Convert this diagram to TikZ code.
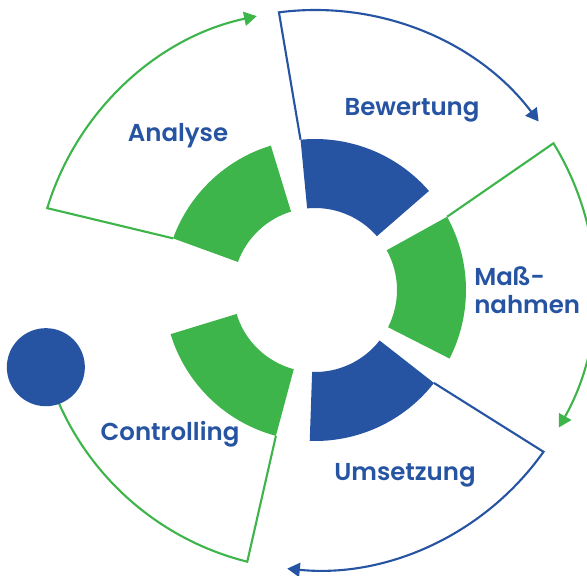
\documentclass[tikz,border=0pt]{standalone}
\usepackage{fontspec}
\setmainfont{Poppins}[BoldFont={Poppins SemiBold}]
\usetikzlibrary{arrows.meta}
\definecolor{ZyklusBlau}{RGB}{38,84,162}
\definecolor{ZyklusGruen}{RGB}{61,181,74}

\begin{document}
\begin{tikzpicture}[x=0.025cm, y=0.025cm,
    rahmen/.style={line width=1.5pt, -{Triangle[length=9pt, width=10pt]}},
    titel/.style={font=\fontsize{17.4}{19.5}\selectfont\bfseries, text=ZyklusBlau, inner sep=0pt}]
    \useasboundingbox (-315,-285) rectangle (272,290);
    \def\ri{82} \def\ro{151} \def\rl{280}

    % Rahmen mit Pfeilen
    \draw[rahmen, ZyklusGruen] (160:\ro) -- (163:\rl) arc[start angle=163, end angle=102, radius=\rl];
    \draw[rahmen, ZyklusBlau] (95.5:\ro) -- (97.4:\rl) arc[start angle=97.4, end angle=37, radius=\rl];
    \draw[rahmen, ZyklusGruen] (29:\ro) -- (31.6:\rl) arc[start angle=31.6, end angle=-29.4, radius=\rl];
    \draw[rahmen, ZyklusBlau] (-38:\ro) -- (-35.3:\rl) arc[start angle=-35.3, end angle=-95.7, radius=\rl];
    \draw[line width=1.5pt, ZyklusGruen] (-105:\ro) -- (-104:\rl) arc[start angle=-104, end angle=-164.3, radius=\rl];
    \node[circle, fill=ZyklusBlau, minimum size=55.5pt, inner sep=0pt] (punkt) at (-164:\rl) {};

    % Ringsegmente
    \fill[ZyklusBlau] (41:\ri) arc[start angle=41, end angle=95.5, radius=\ri] -- (95.5:\ro) arc[start angle=95.5, end angle=41, radius=\ro] -- cycle;
    \fill[ZyklusGruen] (107:\ri) arc[start angle=107, end angle=160, radius=\ri] -- (160:\ro) arc[start angle=160, end angle=107, radius=\ro] -- cycle;
    \fill[ZyklusGruen] (197:\ri) arc[start angle=197, end angle=255, radius=\ri] -- (255:\ro) arc[start angle=255, end angle=197, radius=\ro] -- cycle;
    \fill[ZyklusBlau] (-92:\ri) arc[start angle=-92, end angle=-38, radius=\ri] -- (-38:\ro) arc[start angle=-38, end angle=-92, radius=\ro] -- cycle;
    \fill[ZyklusGruen] (-27:\ri) arc[start angle=-27, end angle=29, radius=\ri] -- (29:\ro) arc[start angle=29, end angle=-27, radius=\ro] -- cycle;

    % Beschriftungen
    \node[titel] (analyse) at (-137,154) {Analyse};
    \node[titel] (bewertung) at (97,180) {Bewertung};
    \node[titel, anchor=west, align=left] (massnahmen) at (159,0) {Maß-\\nahmen};
    \node[titel] (controlling) at (-145,-144) {Controlling};
    \node[titel] (umsetzung) at (90,-185) {Umsetzung};
\end{tikzpicture}
\end{document}
